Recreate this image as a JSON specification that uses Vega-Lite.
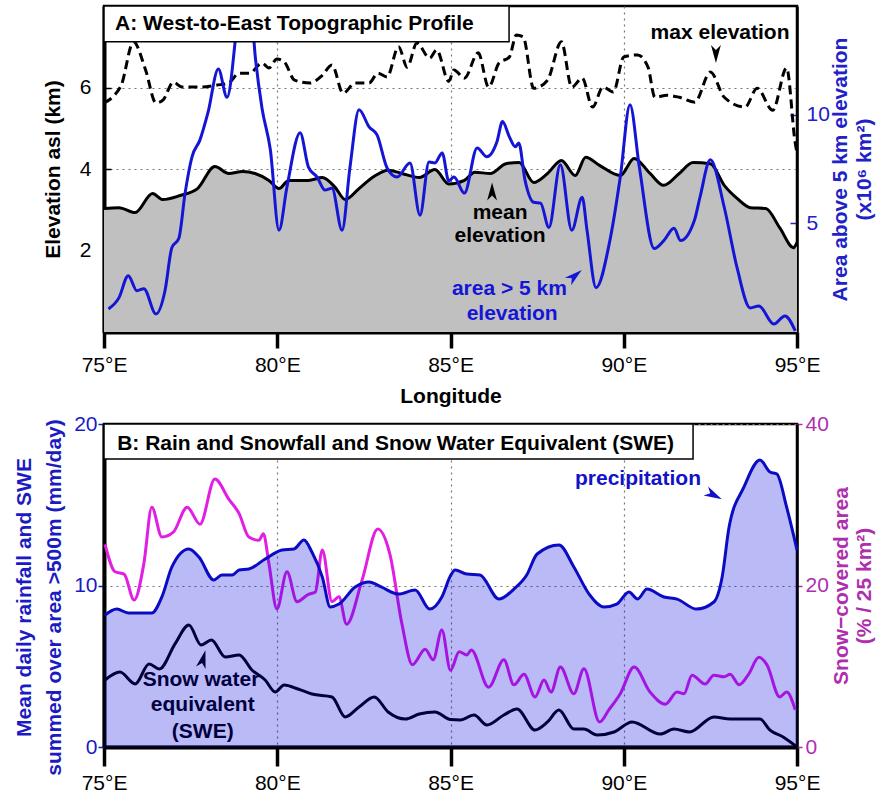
{
 "$schema": "https://vega.github.io/schema/vega-lite/v6.json",
 "padding": {"left": 12, "top": 4, "right": 0, "bottom": 0},
 "spacing": 3,
 "config": {
  "font": "Liberation Sans",
  "view": {"stroke": "black", "strokeWidth": 2.5},
  "axis": {"labelFont": "Liberation Sans", "titleFont": "Liberation Sans", "labelFontSize": 21, "titleFontSize": 21, "titleFontWeight": "bold", "gridDash": [2, 4], "gridColor": "#777777", "gridWidth": 1.2, "gridOpacity": 1, "tickColor": "black", "domainColor": "black", "labelFlush": false, "labelOverlap": false},
  "text": {"font": "Liberation Sans", "fontSize": 21, "fontWeight": "bold"}
 },
 "datasets": {
  "mean": [
   {"lon": 75.0, "km": 3.03}, {"lon": 75.43, "km": 3.05}, {"lon": 75.9, "km": 2.93}, {"lon": 76.4, "km": 3.4}, {"lon": 76.7, "km": 3.25}, {"lon": 77.2, "km": 3.35}, {"lon": 77.7, "km": 3.52}, {"lon": 78.2, "km": 4.06}, {"lon": 78.6, "km": 3.89}, {"lon": 79.0, "km": 3.94}, {"lon": 79.36, "km": 3.89}, {"lon": 79.76, "km": 3.72}, {"lon": 80.05, "km": 3.52}, {"lon": 80.33, "km": 3.72}, {"lon": 80.9, "km": 3.72}, {"lon": 81.3, "km": 3.79}, {"lon": 81.67, "km": 3.55}, {"lon": 81.96, "km": 3.25}, {"lon": 82.36, "km": 3.52}, {"lon": 82.8, "km": 3.82}, {"lon": 83.2, "km": 3.97}, {"lon": 83.6, "km": 3.89}, {"lon": 84.1, "km": 3.79}, {"lon": 84.55, "km": 3.99}, {"lon": 84.95, "km": 3.63}, {"lon": 85.4, "km": 3.72}, {"lon": 85.7, "km": 3.92}, {"lon": 86.15, "km": 3.89}, {"lon": 86.6, "km": 4.13}, {"lon": 86.98, "km": 4.16}, {"lon": 87.4, "km": 3.67}, {"lon": 87.8, "km": 3.89}, {"lon": 88.2, "km": 4.21}, {"lon": 88.6, "km": 3.84}, {"lon": 88.9, "km": 4.29}, {"lon": 89.3, "km": 4.09}, {"lon": 89.9, "km": 3.84}, {"lon": 90.3, "km": 4.26}, {"lon": 90.76, "km": 3.89}, {"lon": 91.15, "km": 3.6}, {"lon": 91.6, "km": 3.89}, {"lon": 92.0, "km": 4.16}, {"lon": 92.5, "km": 4.13}, {"lon": 92.9, "km": 3.6}, {"lon": 93.27, "km": 3.28}, {"lon": 93.65, "km": 3.05}, {"lon": 94.1, "km": 3.03}, {"lon": 94.5, "km": 2.56}, {"lon": 94.9, "km": 2.07}, {"lon": 95.0, "km": 2.19}
  ],
  "max": [
   {"lon": 75.0, "km": 5.62}, {"lon": 75.3, "km": 5.81}, {"lon": 75.5, "km": 6.06}, {"lon": 75.85, "km": 7.12}, {"lon": 76.2, "km": 6.43}, {"lon": 76.5, "km": 5.62}, {"lon": 76.7, "km": 5.69}, {"lon": 77.0, "km": 6.13}, {"lon": 77.25, "km": 6.01}, {"lon": 77.8, "km": 6.01}, {"lon": 78.26, "km": 6.06}, {"lon": 78.6, "km": 6.11}, {"lon": 78.9, "km": 6.35}, {"lon": 79.2, "km": 6.35}, {"lon": 79.56, "km": 6.6}, {"lon": 79.76, "km": 6.48}, {"lon": 79.99, "km": 6.7}, {"lon": 80.2, "km": 6.63}, {"lon": 80.5, "km": 6.18}, {"lon": 80.95, "km": 6.11}, {"lon": 81.3, "km": 6.3}, {"lon": 81.58, "km": 6.55}, {"lon": 81.9, "km": 5.86}, {"lon": 82.25, "km": 6.11}, {"lon": 82.65, "km": 6.11}, {"lon": 82.9, "km": 6.35}, {"lon": 83.17, "km": 6.26}, {"lon": 83.5, "km": 7.0}, {"lon": 83.75, "km": 6.5}, {"lon": 84.03, "km": 7.09}, {"lon": 84.4, "km": 6.72}, {"lon": 84.6, "km": 6.92}, {"lon": 84.95, "km": 6.15}, {"lon": 85.1, "km": 6.43}, {"lon": 85.4, "km": 6.23}, {"lon": 85.8, "km": 6.85}, {"lon": 86.1, "km": 6.01}, {"lon": 86.4, "km": 6.6}, {"lon": 86.7, "km": 6.75}, {"lon": 86.9, "km": 7.29}, {"lon": 87.1, "km": 7.24}, {"lon": 87.4, "km": 5.98}, {"lon": 87.8, "km": 6.18}, {"lon": 88.2, "km": 7.12}, {"lon": 88.5, "km": 6.01}, {"lon": 88.8, "km": 6.23}, {"lon": 89.1, "km": 5.52}, {"lon": 89.4, "km": 6.01}, {"lon": 89.7, "km": 5.89}, {"lon": 90.0, "km": 6.75}, {"lon": 90.4, "km": 6.8}, {"lon": 90.7, "km": 6.5}, {"lon": 90.9, "km": 5.76}, {"lon": 91.25, "km": 5.81}, {"lon": 91.6, "km": 5.76}, {"lon": 92.05, "km": 5.64}, {"lon": 92.5, "km": 6.38}, {"lon": 92.9, "km": 5.76}, {"lon": 93.5, "km": 5.52}, {"lon": 93.85, "km": 5.98}, {"lon": 94.3, "km": 5.44}, {"lon": 94.7, "km": 6.48}, {"lon": 94.95, "km": 4.63}, {"lon": 95.0, "km": 4.4}
  ],
  "area": [
   {"lon": 75.13, "a": 1.06}, {"lon": 75.43, "a": 1.57}, {"lon": 75.7, "a": 2.59}, {"lon": 75.95, "a": 1.9}, {"lon": 76.15, "a": 1.99}, {"lon": 76.5, "a": 0.83}, {"lon": 76.76, "a": 1.9}, {"lon": 76.96, "a": 3.89}, {"lon": 77.16, "a": 4.31}, {"lon": 77.34, "a": 6.39}, {"lon": 77.54, "a": 8.06}, {"lon": 77.77, "a": 8.84}, {"lon": 78.0, "a": 10.09}, {"lon": 78.3, "a": 12.1}, {"lon": 78.55, "a": 10.8}, {"lon": 78.78, "a": 13.3}, {"lon": 78.9, "a": 15.5}, {"lon": 79.2, "a": 15.5}, {"lon": 79.37, "a": 12.6}, {"lon": 79.56, "a": 10.3}, {"lon": 79.8, "a": 8.4}, {"lon": 80.05, "a": 4.68}, {"lon": 80.28, "a": 6.67}, {"lon": 80.66, "a": 9.17}, {"lon": 80.9, "a": 7.59}, {"lon": 81.15, "a": 7.13}, {"lon": 81.38, "a": 6.53}, {"lon": 81.58, "a": 6.62}, {"lon": 81.87, "a": 4.68}, {"lon": 82.1, "a": 7.59}, {"lon": 82.36, "a": 10.23}, {"lon": 82.65, "a": 9.44}, {"lon": 82.88, "a": 9.07}, {"lon": 83.17, "a": 7.55}, {"lon": 83.46, "a": 7.13}, {"lon": 83.83, "a": 7.78}, {"lon": 84.12, "a": 5.37}, {"lon": 84.38, "a": 7.82}, {"lon": 84.55, "a": 7.78}, {"lon": 84.76, "a": 8.24}, {"lon": 84.95, "a": 6.95}, {"lon": 85.1, "a": 7.13}, {"lon": 85.4, "a": 6.39}, {"lon": 85.77, "a": 8.47}, {"lon": 86.05, "a": 8.06}, {"lon": 86.34, "a": 8.75}, {"lon": 86.5, "a": 9.68}, {"lon": 86.7, "a": 8.98}, {"lon": 86.87, "a": 8.52}, {"lon": 86.97, "a": 8.7}, {"lon": 87.15, "a": 6.99}, {"lon": 87.4, "a": 5.97}, {"lon": 87.6, "a": 5.93}, {"lon": 87.84, "a": 4.81}, {"lon": 88.17, "a": 7.69}, {"lon": 88.5, "a": 4.68}, {"lon": 88.8, "a": 6.2}, {"lon": 88.94, "a": 4.68}, {"lon": 89.2, "a": 2.04}, {"lon": 89.6, "a": 4.21}, {"lon": 89.9, "a": 7.13}, {"lon": 90.18, "a": 10.46}, {"lon": 90.45, "a": 7.59}, {"lon": 90.88, "a": 3.84}, {"lon": 91.16, "a": 4.21}, {"lon": 91.45, "a": 4.77}, {"lon": 91.64, "a": 4.21}, {"lon": 92.04, "a": 5.14}, {"lon": 92.2, "a": 6.2}, {"lon": 92.5, "a": 7.92}, {"lon": 92.9, "a": 5.74}, {"lon": 93.27, "a": 2.96}, {"lon": 93.65, "a": 1.11}, {"lon": 93.9, "a": 1.2}, {"lon": 94.33, "a": 0.37}, {"lon": 94.65, "a": 0.74}, {"lon": 94.95, "a": 0.05}
  ],
  "precip": [
   {"lon": 75.03, "mm": 8.17}, {"lon": 75.37, "mm": 8.54}, {"lon": 75.7, "mm": 8.3}, {"lon": 76.38, "mm": 8.3}, {"lon": 76.67, "mm": 9.29}, {"lon": 76.96, "mm": 11.15}, {"lon": 77.45, "mm": 12.26}, {"lon": 77.74, "mm": 11.76}, {"lon": 78.17, "mm": 10.34}, {"lon": 78.4, "mm": 10.65}, {"lon": 78.7, "mm": 10.65}, {"lon": 78.9, "mm": 10.96}, {"lon": 79.18, "mm": 11.02}, {"lon": 79.65, "mm": 11.64}, {"lon": 80.14, "mm": 12.2}, {"lon": 80.48, "mm": 12.26}, {"lon": 80.77, "mm": 12.82}, {"lon": 81.0, "mm": 12.07}, {"lon": 81.3, "mm": 10.53}, {"lon": 81.53, "mm": 8.67}, {"lon": 81.78, "mm": 8.85}, {"lon": 82.25, "mm": 9.91}, {"lon": 82.65, "mm": 10.22}, {"lon": 83.0, "mm": 9.91}, {"lon": 83.5, "mm": 9.47}, {"lon": 83.98, "mm": 9.72}, {"lon": 84.4, "mm": 8.54}, {"lon": 84.75, "mm": 9.29}, {"lon": 85.0, "mm": 10.6}, {"lon": 85.13, "mm": 10.96}, {"lon": 85.47, "mm": 10.71}, {"lon": 85.85, "mm": 10.65}, {"lon": 86.4, "mm": 9.16}, {"lon": 86.83, "mm": 9.78}, {"lon": 87.2, "mm": 10.65}, {"lon": 87.5, "mm": 11.95}, {"lon": 88.13, "mm": 12.51}, {"lon": 88.56, "mm": 11.15}, {"lon": 89.0, "mm": 9.47}, {"lon": 89.43, "mm": 8.67}, {"lon": 89.8, "mm": 8.85}, {"lon": 90.15, "mm": 9.6}, {"lon": 90.4, "mm": 9.16}, {"lon": 90.67, "mm": 9.78}, {"lon": 91.16, "mm": 9.29}, {"lon": 91.54, "mm": 9.16}, {"lon": 92.1, "mm": 8.54}, {"lon": 92.6, "mm": 8.98}, {"lon": 92.84, "mm": 10.53}, {"lon": 93.04, "mm": 13.62}, {"lon": 93.47, "mm": 16.1}, {"lon": 93.93, "mm": 17.77}, {"lon": 94.22, "mm": 17.03}, {"lon": 94.42, "mm": 16.9}, {"lon": 94.7, "mm": 14.86}, {"lon": 95.0, "mm": 12.2}
  ],
  "swe": [
   {"lon": 75.03, "mm": 4.15}, {"lon": 75.46, "mm": 4.64}, {"lon": 75.9, "mm": 3.9}, {"lon": 76.3, "mm": 5.14}, {"lon": 76.6, "mm": 4.83}, {"lon": 77.05, "mm": 6.38}, {"lon": 77.45, "mm": 7.55}, {"lon": 77.8, "mm": 6.32}, {"lon": 78.1, "mm": 6.63}, {"lon": 78.5, "mm": 5.57}, {"lon": 78.9, "mm": 5.7}, {"lon": 79.27, "mm": 4.77}, {"lon": 79.65, "mm": 4.15}, {"lon": 79.94, "mm": 3.41}, {"lon": 80.2, "mm": 3.84}, {"lon": 80.6, "mm": 3.59}, {"lon": 81.0, "mm": 3.28}, {"lon": 81.58, "mm": 3.1}, {"lon": 81.96, "mm": 1.86}, {"lon": 82.36, "mm": 2.48}, {"lon": 82.8, "mm": 3.1}, {"lon": 83.2, "mm": 2.17}, {"lon": 83.7, "mm": 1.73}, {"lon": 84.1, "mm": 2.04}, {"lon": 84.55, "mm": 2.17}, {"lon": 85.0, "mm": 1.7}, {"lon": 85.28, "mm": 1.67}, {"lon": 85.68, "mm": 1.98}, {"lon": 86.05, "mm": 1.36}, {"lon": 86.54, "mm": 1.98}, {"lon": 86.92, "mm": 2.35}, {"lon": 87.44, "mm": 1.05}, {"lon": 87.8, "mm": 1.55}, {"lon": 88.13, "mm": 2.29}, {"lon": 88.56, "mm": 1.11}, {"lon": 88.85, "mm": 1.11}, {"lon": 89.23, "mm": 0.74}, {"lon": 89.72, "mm": 0.93}, {"lon": 90.24, "mm": 1.55}, {"lon": 91.05, "mm": 0.8}, {"lon": 91.45, "mm": 1.11}, {"lon": 91.9, "mm": 0.93}, {"lon": 92.6, "mm": 1.86}, {"lon": 93.07, "mm": 1.73}, {"lon": 93.93, "mm": 1.73}, {"lon": 94.22, "mm": 1.05}, {"lon": 94.6, "mm": 0.62}, {"lon": 95.0, "mm": 0.0}
  ],
  "snow": [
   {"lon": 75.03, "pct": 25.1}, {"lon": 75.32, "pct": 21.7}, {"lon": 75.58, "pct": 21.4}, {"lon": 75.87, "pct": 18.2}, {"lon": 76.15, "pct": 22.7}, {"lon": 76.38, "pct": 29.7}, {"lon": 76.67, "pct": 26.0}, {"lon": 77.0, "pct": 26.6}, {"lon": 77.4, "pct": 29.7}, {"lon": 77.77, "pct": 27.6}, {"lon": 78.2, "pct": 33.2}, {"lon": 78.6, "pct": 30.7}, {"lon": 78.9, "pct": 28.9}, {"lon": 79.18, "pct": 26.0}, {"lon": 79.47, "pct": 25.6}, {"lon": 79.6, "pct": 26.4}, {"lon": 79.76, "pct": 22.7}, {"lon": 79.99, "pct": 17.1}, {"lon": 80.28, "pct": 21.7}, {"lon": 80.57, "pct": 18.0}, {"lon": 80.9, "pct": 18.9}, {"lon": 81.1, "pct": 19.2}, {"lon": 81.3, "pct": 24.4}, {"lon": 81.58, "pct": 18.0}, {"lon": 81.78, "pct": 18.6}, {"lon": 82.0, "pct": 15.2}, {"lon": 82.45, "pct": 20.7}, {"lon": 82.9, "pct": 27.0}, {"lon": 83.25, "pct": 23.9}, {"lon": 83.6, "pct": 15.2}, {"lon": 83.9, "pct": 10.2}, {"lon": 84.27, "pct": 12.1}, {"lon": 84.5, "pct": 10.8}, {"lon": 84.75, "pct": 14.5}, {"lon": 85.0, "pct": 9.5}, {"lon": 85.25, "pct": 11.8}, {"lon": 85.47, "pct": 11.4}, {"lon": 85.6, "pct": 12.0}, {"lon": 86.1, "pct": 7.4}, {"lon": 86.54, "pct": 10.8}, {"lon": 86.83, "pct": 7.7}, {"lon": 87.12, "pct": 9.0}, {"lon": 87.44, "pct": 6.2}, {"lon": 87.7, "pct": 8.3}, {"lon": 87.9, "pct": 6.8}, {"lon": 88.17, "pct": 9.9}, {"lon": 88.56, "pct": 6.6}, {"lon": 88.85, "pct": 9.7}, {"lon": 89.3, "pct": 3.1}, {"lon": 89.57, "pct": 4.6}, {"lon": 89.9, "pct": 6.6}, {"lon": 90.3, "pct": 9.9}, {"lon": 90.76, "pct": 6.8}, {"lon": 91.2, "pct": 5.3}, {"lon": 91.54, "pct": 6.8}, {"lon": 91.74, "pct": 6.6}, {"lon": 91.97, "pct": 8.9}, {"lon": 92.35, "pct": 7.8}, {"lon": 92.6, "pct": 8.9}, {"lon": 92.9, "pct": 8.7}, {"lon": 93.07, "pct": 9.0}, {"lon": 93.33, "pct": 7.7}, {"lon": 93.6, "pct": 9.0}, {"lon": 93.9, "pct": 11.1}, {"lon": 94.13, "pct": 10.2}, {"lon": 94.5, "pct": 6.2}, {"lon": 94.7, "pct": 6.8}, {"lon": 94.95, "pct": 4.6}
  ]
 },
 "vconcat": [
  {
   "width": 693,
   "height": 326,
   "layer": [
    {
     "layer": [
      {
       "data": {"name": "mean"},
       "mark": {"type": "area", "color": "#c0c0c0", "interpolate": "monotone"},
       "encoding": {
        "x": {"field": "lon", "type": "quantitative", "scale": {"domain": [75, 95], "nice": false, "zero": false},
              "axis": {"values": [75, 80, 85, 90, 95], "labelExpr": "datum.value + '°E'", "title": "Longitude", "tickSize": 16, "tickWidth": 3.5, "domainWidth": 4, "labelPadding": 6, "titlePadding": 10, "grid": true, "labelColor": "black", "titleColor": "black"}},
        "y": {"field": "km", "type": "quantitative", "scale": {"domain": [0, 8], "nice": false},
              "axis": {"orient": "left", "values": [2, 4, 6], "title": "Elevation asl (km)", "grid": true, "tickSize": -7, "tickWidth": 1.5, "labelPadding": 20, "domainWidth": 4, "titlePadding": 16, "labelColor": "black", "titleColor": "black"}}
       }
      },
      {
       "data": {"name": "mean"},
       "mark": {"type": "line", "color": "black", "strokeWidth": 3, "interpolate": "monotone"},
       "encoding": {
        "x": {"field": "lon", "type": "quantitative", "scale": {"domain": [75, 95], "nice": false, "zero": false}},
        "y": {"field": "km", "type": "quantitative", "scale": {"domain": [0, 8], "nice": false}}
       }
      },
      {
       "data": {"name": "max"},
       "mark": {"type": "line", "color": "black", "strokeWidth": 3, "strokeDash": [9, 5], "interpolate": "monotone"},
       "encoding": {
        "x": {"field": "lon", "type": "quantitative", "scale": {"domain": [75, 95], "nice": false, "zero": false}},
        "y": {"field": "km", "type": "quantitative", "scale": {"domain": [0, 8], "nice": false}}
       }
      }
     ]
    },
    {
     "layer": [
      {
       "data": {"name": "area"},
       "mark": {"type": "line", "color": "#1515d5", "strokeWidth": 3, "interpolate": "monotone", "clip": true},
       "encoding": {
        "x": {"field": "lon", "type": "quantitative", "scale": {"domain": [75, 95], "nice": false, "zero": false}},
        "y": {"field": "a", "type": "quantitative", "scale": {"domain": [0, 15], "nice": false},
              "axis": {"orient": "right", "values": [5, 10], "title": ["Area above 5 km elevation", "(x10⁶ km²)"], "titleAngle": -90, "titleLineHeight": 24, "grid": false, "tickSize": -7, "tickWidth": 1.5, "labelPadding": 16, "titlePadding": -3, "domainWidth": 2.5, "tickColor": "#2121c8", "labelColor": "#2121c8", "titleColor": "#2121c8"}}
       }
      }
     ]
    },
    {
     "layer": [
      {
       "data": {"values": [{"x1": 75, "x2": 86.69, "y1": 7.12, "y2": 8}]},
       "mark": {"type": "rect", "fill": "white", "stroke": "black", "strokeWidth": 1.5},
       "encoding": {
        "x": {"field": "x1", "type": "quantitative", "scale": {"domain": [75, 95], "nice": false, "zero": false}},
        "x2": {"field": "x2"},
        "y": {"field": "y1", "type": "quantitative", "scale": {"domain": [0, 8], "nice": false}, "axis": null},
        "y2": {"field": "y2"}
       }
      },
      {
       "data": {"values": [{"lon": 75.32, "y": 7.56, "label": "A: West-to-East Topographic Profile"}]},
       "mark": {"type": "text", "align": "left", "baseline": "middle", "color": "black"},
       "encoding": {
        "x": {"field": "lon", "type": "quantitative", "scale": {"domain": [75, 95], "nice": false, "zero": false}},
        "y": {"field": "y", "type": "quantitative", "scale": {"domain": [0, 8], "nice": false}, "axis": null},
        "text": {"field": "label"}
       }
      },
      {
       "data": {"values": [{"lon": 92.78, "y": 7.34, "label": "max elevation"}, {"lon": 86.43, "y": 2.93, "label": "mean"}, {"lon": 86.43, "y": 2.36, "label": "elevation"}]},
       "mark": {"type": "text", "align": "center", "baseline": "middle", "color": "black"},
       "encoding": {
        "x": {"field": "lon", "type": "quantitative", "scale": {"domain": [75, 95], "nice": false, "zero": false}},
        "y": {"field": "y", "type": "quantitative", "scale": {"domain": [0, 8], "nice": false}, "axis": null},
        "text": {"field": "label"}
       }
      },
      {
       "data": {"values": [{"lon": 86.7, "y": 1.06, "label": "area > 5 km"}, {"lon": 86.78, "y": 0.44, "label": "elevation"}]},
       "mark": {"type": "text", "align": "center", "baseline": "middle", "color": "#1515d5"},
       "encoding": {
        "x": {"field": "lon", "type": "quantitative", "scale": {"domain": [75, 95], "nice": false, "zero": false}},
        "y": {"field": "y", "type": "quantitative", "scale": {"domain": [0, 8], "nice": false}, "axis": null},
        "text": {"field": "label"}
       }
      },
      {
       "data": {"values": [{"lon": 92.66, "y": 6.82}]},
       "mark": {"type": "point", "shape": "M0,-1L0.55,1L0,0.45L-0.55,1Z", "filled": true, "opacity": 1, "size": 324, "color": "black", "angle": 180},
       "encoding": {
        "x": {"field": "lon", "type": "quantitative", "scale": {"domain": [75, 95], "nice": false, "zero": false}},
        "y": {"field": "y", "type": "quantitative", "scale": {"domain": [0, 8], "nice": false}, "axis": null}
       }
      },
      {
       "data": {"values": [{"lon": 86.2, "y": 3.45}]},
       "mark": {"type": "point", "shape": "M0,-1L0.55,1L0,0.45L-0.55,1Z", "filled": true, "opacity": 1, "size": 324, "color": "black", "angle": 0},
       "encoding": {
        "x": {"field": "lon", "type": "quantitative", "scale": {"domain": [75, 95], "nice": false, "zero": false}},
        "y": {"field": "y", "type": "quantitative", "scale": {"domain": [0, 8], "nice": false}, "axis": null}
       }
      },
      {
       "data": {"values": [{"lon": 88.59, "y": 1.38}]},
       "mark": {"type": "point", "shape": "M0,-1L0.55,1L0,0.45L-0.55,1Z", "filled": true, "opacity": 1, "size": 324, "color": "#1515d5", "angle": 50},
       "encoding": {
        "x": {"field": "lon", "type": "quantitative", "scale": {"domain": [75, 95], "nice": false, "zero": false}},
        "y": {"field": "y", "type": "quantitative", "scale": {"domain": [0, 8], "nice": false}, "axis": null}
       }
      }
     ]
    }
   ],
   "resolve": {"scale": {"y": "independent"}}
  },
  {
   "width": 693,
   "height": 323,
   "layer": [
    {
     "layer": [
      {
       "data": {"name": "snow"},
       "mark": {"type": "line", "color": "#e21ee2", "strokeWidth": 3, "interpolate": "monotone"},
       "encoding": {
        "x": {"field": "lon", "type": "quantitative", "scale": {"domain": [75, 95], "nice": false, "zero": false}},
        "y": {"field": "pct", "type": "quantitative", "scale": {"domain": [0, 40], "nice": false},
              "axis": {"orient": "right", "values": [0, 20, 40], "title": ["Snow−covered area", "(% / 25 km²)"], "titleAngle": -90, "titleLineHeight": 23, "grid": false, "tickSize": 5, "tickWidth": 1.5, "labelPadding": 3, "titlePadding": 0, "domainWidth": 2.5, "tickColor": "#ae2fae", "labelColor": "#ae2fae", "titleColor": "#ae2fae"}}
       }
      }
     ]
    },
    {
     "layer": [
      {
       "data": {"name": "swe"},
       "mark": {"type": "line", "color": "black", "strokeWidth": 3, "interpolate": "monotone"},
       "encoding": {
        "x": {"field": "lon", "type": "quantitative", "scale": {"domain": [75, 95], "nice": false, "zero": false},
              "axis": {"values": [75, 80, 85, 90, 95], "labelExpr": "datum.value + '°E'", "title": "", "tickSize": 19, "tickWidth": 3.5, "domainWidth": 4, "labelPadding": 6, "grid": true, "labelColor": "black"}},
        "y": {"field": "mm", "type": "quantitative", "scale": {"domain": [0, 20], "nice": false},
              "axis": {"orient": "left", "values": [0, 10, 20], "title": ["Mean daily rainfall and SWE", "summed over area >500m (mm/day)"], "titleLineHeight": 30, "titleY": 173, "grid": true, "tickSize": 6, "tickWidth": 1.5, "labelPadding": 1, "domainWidth": 4, "titlePadding": 9, "tickColor": "#1b1bc3", "labelColor": "#1b1bc3", "titleColor": "#1b1bc3"}}
       }
      },
      {
       "data": {"values": [{"lon": 77.8, "y": 4.15, "label": "Snow water"}, {"lon": 77.85, "y": 2.6, "label": "equivalent"}, {"lon": 77.85, "y": 0.93, "label": "(SWE)"}]},
       "mark": {"type": "text", "align": "center", "baseline": "middle", "color": "black"},
       "encoding": {
        "x": {"field": "lon", "type": "quantitative", "scale": {"domain": [75, 95], "nice": false, "zero": false}},
        "y": {"field": "y", "type": "quantitative", "scale": {"domain": [0, 20], "nice": false}},
        "text": {"field": "label"}
       }
      },
      {
       "data": {"values": [{"lon": 77.86, "y": 5.45}]},
       "mark": {"type": "point", "shape": "M0,-1L0.55,1L0,0.45L-0.55,1Z", "filled": true, "opacity": 1, "size": 324, "color": "black", "angle": 15},
       "encoding": {
        "x": {"field": "lon", "type": "quantitative", "scale": {"domain": [75, 95], "nice": false, "zero": false}},
        "y": {"field": "y", "type": "quantitative", "scale": {"domain": [0, 20], "nice": false}}
       }
      },
      {
       "data": {"name": "precip"},
       "mark": {"type": "area", "color": "#0000e0", "opacity": 0.27, "interpolate": "monotone"},
       "encoding": {
        "x": {"field": "lon", "type": "quantitative", "scale": {"domain": [75, 95], "nice": false, "zero": false}},
        "y": {"field": "mm", "type": "quantitative", "scale": {"domain": [0, 20], "nice": false}}
       }
      },
      {
       "data": {"name": "precip"},
       "mark": {"type": "line", "color": "#0b0bc4", "strokeWidth": 3, "interpolate": "monotone"},
       "encoding": {
        "x": {"field": "lon", "type": "quantitative", "scale": {"domain": [75, 95], "nice": false, "zero": false}},
        "y": {"field": "mm", "type": "quantitative", "scale": {"domain": [0, 20], "nice": false}}
       }
      },
      {
       "data": {"values": [{"lon": 90.41, "y": 16.6, "label": "precipitation"}]},
       "mark": {"type": "text", "align": "center", "baseline": "middle", "color": "#1212c8"},
       "encoding": {
        "x": {"field": "lon", "type": "quantitative", "scale": {"domain": [75, 95], "nice": false, "zero": false}},
        "y": {"field": "y", "type": "quantitative", "scale": {"domain": [0, 20], "nice": false}},
        "text": {"field": "label"}
       }
      },
      {
       "data": {"values": [{"lon": 92.6, "y": 15.6}]},
       "mark": {"type": "point", "shape": "M0,-1L0.55,1L0,0.45L-0.55,1Z", "filled": true, "opacity": 1, "size": 324, "color": "#1212c8", "angle": 117},
       "encoding": {
        "x": {"field": "lon", "type": "quantitative", "scale": {"domain": [75, 95], "nice": false, "zero": false}},
        "y": {"field": "y", "type": "quantitative", "scale": {"domain": [0, 20], "nice": false}}
       }
      },
      {
       "data": {"values": [{"x1": 75, "x2": 92.0, "y1": 17.83, "y2": 20}]},
       "mark": {"type": "rect", "fill": "white", "stroke": "black", "strokeWidth": 1.5},
       "encoding": {
        "x": {"field": "x1", "type": "quantitative", "scale": {"domain": [75, 95], "nice": false, "zero": false}},
        "x2": {"field": "x2"},
        "y": {"field": "y1", "type": "quantitative", "scale": {"domain": [0, 20], "nice": false}},
        "y2": {"field": "y2"}
       }
      },
      {
       "data": {"values": [{"lon": 75.38, "y": 18.76, "label": "B: Rain and Snowfall and Snow Water Equivalent (SWE)"}]},
       "mark": {"type": "text", "align": "left", "baseline": "middle", "color": "black"},
       "encoding": {
        "x": {"field": "lon", "type": "quantitative", "scale": {"domain": [75, 95], "nice": false, "zero": false}},
        "y": {"field": "y", "type": "quantitative", "scale": {"domain": [0, 20], "nice": false}},
        "text": {"field": "label"}
       }
      }
     ]
    }
   ],
   "resolve": {"scale": {"y": "independent"}}
  }
 ]
}
